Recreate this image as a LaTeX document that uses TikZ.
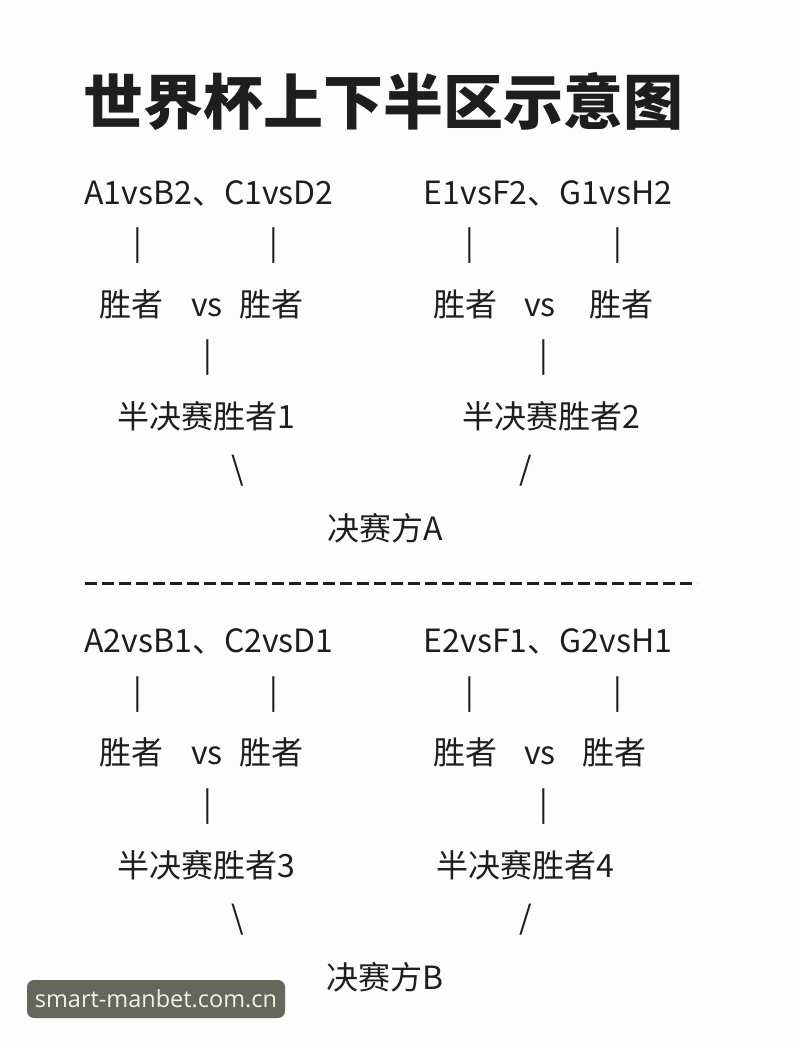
\documentclass[tikz,border=0pt]{standalone}
\usepackage{fontspec}
\setmainfont{Noto Sans CJK SC}
\newfontfamily\wmfont{Open Sans}
\definecolor{bg}{HTML}{FDFDFD}
\definecolor{ink}{HTML}{1E1E1E}
\definecolor{wmbg}{HTML}{65675A}
\definecolor{wmfg}{HTML}{F2F2E6}
\begin{document}
\begin{tikzpicture}[x=1pt,y=-1pt,
  txt/.style={text=ink,font=\fontsize{32}{32}\selectfont,inner sep=0pt,anchor=center},
  bar/.style={text=ink,font=\fontsize{32}{32}\selectfont,inner sep=0pt,anchor=center},
  ttl/.style={text=ink,font=\fontsize{60}{60}\selectfont\bfseries,inner sep=0pt,anchor=center},
  sep/.style={draw=ink,line width=3pt,dash pattern=on 12pt off 5pt}]
\fill[bg] (0,0) rectangle (800,1044);
\useasboundingbox (0,0) rectangle (800,1044);
\node[ttl] (title) at (383,101) {世界杯上下半区示意图};
% upper half
\node[txt] (u1) at (209,193) {A1vsB2、C1vsD2};
\node[txt] (u2) at (548,193) {E1vsF2、G1vsH2};
\node[bar] (up1) at (138,246) {|};
\node[bar] (up2) at (274,246) {|};
\node[bar] (up3) at (470,246) {|};
\node[bar] (up4) at (618,246) {|};
\node[txt] (uw1) at (131,304) {胜者};
\node[txt] (uvs1) at (207,308) {vs};
\node[txt] (uw2) at (271,304) {胜者};
\node[txt] (uw3) at (465,304) {胜者};
\node[txt] (uvs2) at (540,308) {vs};
\node[txt] (uw4) at (621,304) {胜者};
\node[bar] (up5) at (208,358) {|};
\node[bar] (up6) at (544,358) {|};
\node[txt] (us1) at (206,416) {半决赛胜者1};
\node[txt] (us2) at (551,416) {半决赛胜者2};
\node[txt] (ubs) at (238,471) {\textbackslash};
\node[txt] (usl) at (526,471) {/};
\node[txt] (ufa) at (385,528) {决赛方A};
% separator
\coordinate (sepL) at (85,583);
\coordinate (sepR) at (697,583);
\draw[sep] (sepL) -- (sepR);
% lower half
\node[txt] (l1) at (209,641) {A2vsB1、C2vsD1};
\node[txt] (l2) at (548,641) {E2vsF1、G2vsH1};
\node[bar] (lp1) at (138,695) {|};
\node[bar] (lp2) at (274,695) {|};
\node[bar] (lp3) at (470,695) {|};
\node[bar] (lp4) at (618,695) {|};
\node[txt] (lw1) at (131,752) {胜者};
\node[txt] (lvs1) at (207,756) {vs};
\node[txt] (lw2) at (271,752) {胜者};
\node[txt] (lw3) at (465,752) {胜者};
\node[txt] (lvs2) at (540,756) {vs};
\node[txt] (lw4) at (614,752) {胜者};
\node[bar] (lp5) at (208,807) {|};
\node[bar] (lp6) at (544,807) {|};
\node[txt] (ls1) at (206,865) {半决赛胜者3};
\node[txt] (ls2) at (525,865) {半决赛胜者4};
\node[txt] (lbs) at (238,920) {\textbackslash};
\node[txt] (lsl) at (526,920) {/};
\node[txt] (lfb) at (385,977) {决赛方B};
% watermark
\node[fill=wmbg,rounded corners=7pt,minimum width=258pt,minimum height=38pt,inner sep=0pt,
  text=wmfg,font=\wmfont\fontsize{23.5}{23.5}\selectfont] (wm) at (156,999) {smart-manbet.com.cn};
\end{tikzpicture}
\end{document}
